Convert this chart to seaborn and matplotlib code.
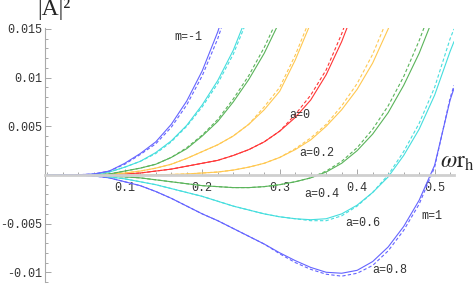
import numpy as np
import pandas as pd
import matplotlib
matplotlib.use("Agg")
import matplotlib.pyplot as plt
import seaborn as sns
from matplotlib.ticker import FixedLocator, MultipleLocator

#%% Data
w = [0.00, 0.02, 0.04, 0.06, 0.08, 0.10, 0.12, 0.14, 0.16, 0.18, 0.20, 0.22, 0.24,
     0.26, 0.28, 0.30, 0.32, 0.34, 0.36, 0.38, 0.40, 0.42, 0.44, 0.46, 0.48, 0.50, 0.52, 0.525]

# m = -1 branches (rising)
blue_up = [0, 0, .00002, .0001, .0004, .0012, .0022, .0034, .0052, .0076, .0107, .0147, .0195]
blue_up_d = [0, 0, .00002, .0001, .0004, .0011, .0021, .0032, .0049, .0072, .0102, .0140, .0188]
cyan_up = [0, 0, .00001, .00006, .0003, .0008, .0014, .0023, .0035, .0051, .0072, .0097, .0128, .0168]
cyan_up_d = [0, 0, .00001, .00006, .0003, .0008, .0014, .0022, .0034, .0050, .0070, .0094, .0124, .0163]
green_up = [0, 0, 0, .00003, .0001, .0004, .0007, .0011, .0018, .0027, .0040, .0055, .0075, .0098, .0125, .0158]
green_up_d = [0, 0, 0, .00003, .0001, .0004, .0007, .0011, .0018, .0028, .0041, .0057, .0078, .0102, .0131, .0165]
orange_up = [0, 0, 0, .00002, .00008, .0002, .0004, .0007, .0011, .0017, .0024, .0031, .0040, .0052,
             .0067, .0086, .0118, .0156]
orange_up_d = [0, 0, 0, .00002, .00008, .0002, .0004, .0007, .0011, .0017, .0024, .0031, .0040, .0052,
               .0070, .0090, .0123, .0162]

# a = 0 (both m)
red = [0, 0, 0, 0, .00003, .0001, .0002, .0004, .0006, .0009, .0012, .0015, .0020, .0026, .0034,
       .0045, .0059, .0077, .0103, .0137, .0178]
red_d = [0, 0, 0, 0, .00003, .0001, .0002, .0004, .0006, .0009, .0012, .0015, .0020, .0026, .0034,
         .0045, .0062, .0082, .0108, .0145, .0190]

# m = 1 branches (dip then rise)
orange_dn = [0, 0, 0, 0, 0, 0, 0, .00002, .00005, .0001, .0002, .0003, .0005, .0008, .0012, .0018,
             .0026, .0036, .0050, .0067, .0088, .0115, .0150, .0190]
orange_dn_d = [0, 0, 0, 0, 0, 0, 0, .00002, .00005, .0001, .0002, .0003, .0005, .0008, .0012, .0018,
               .0027, .0038, .0052, .0071, .0094, .0124, .0162]
green_dn = [0, 0, 0, -.00003, -.0001, -.0002, -.0003, -.0005, -.0007, -.0009, -.0011, -.0012, -.0013,
            -.0013, -.0012, -.0010, -.0007, -.0003, .0003, .0012, .0025, .0042, .0064, .0092, .0125, .0165]
green_dn_d = [0, 0, 0, -.00003, -.0001, -.0002, -.0003, -.0005, -.0007, -.0009, -.0011, -.0012, -.0013,
              -.0013, -.0012, -.0010, -.0007, -.0003, .0004, .0014, .0028, .0047, .0071, .0101, .0138, .0180]
cyan_dn = [0, 0, -.00001, -.00006, -.0002, -.0004, -.0007, -.0010, -.0014, -.0018, -.0022, -.0027,
           -.0032, -.0036, -.0040, -.0043, -.0045, -.0046, -.0045, -.0040, -.0031, -.0018, -.0002,
           .0020, .0047, .0082, .0127, .0137]
cyan_dn_d = [0, 0, -.00001, -.00006, -.0002, -.0004, -.0007, -.0010, -.0014, -.0018, -.0022, -.0027,
             -.0032, -.0036, -.0040, -.0043, -.0045, -.0047, -.0047, -.0042, -.0032, -.0018, .0000,
             .0024, .0053, .0090, .0140, .0150]
blue_dn = [0, 0, -.00002, -.0001, -.0003, -.0007, -.0011, -.0017, -.0024, -.0032, -.0040, -.0047,
           -.0055, -.0063, -.0071, -.0080, -.0088, -.0095, -.0100, -.0101, -.0098, -.0089, -.0074,
           -.0053, -.0026, .0010, .0077, .0089]
blue_dn_d = [0, 0, -.00002, -.0001, -.0003, -.0007, -.0011, -.0017, -.0024, -.0032, -.0040, -.0047,
             -.0055, -.0063, -.0071, -.0081, -.0090, -.0097, -.0102, -.0104, -.0101, -.0093, -.0078,
             -.0057, -.0030, .0008, .0079, .0092]

x_ticks = [0.1, 0.2, 0.3, 0.4, 0.5]
y_ticks = [0.015, 0.01, 0.005, -0.005, -0.01]
y_tick_labels = ["0.015", "0.01", "0.005", "-0.005", "-0.01"]

BLUE, CYAN, GREEN, ORANGE, RED = "#6464ff", "#45dede", "#5ab45a", "#ffc850", "#ff3535"

curves = [
    (blue_dn, blue_dn_d, BLUE), (cyan_dn, cyan_dn_d, CYAN), (green_dn, green_dn_d, GREEN),
    (orange_dn, orange_dn_d, ORANGE), (red, red_d, RED),
    (orange_up, orange_up_d, ORANGE), (green_up, green_up_d, GREEN),
    (cyan_up, cyan_up_d, CYAN), (blue_up, blue_up_d, BLUE),
]

#%% Plot
sns.set_style("white")
plt.rcParams["font.family"] = ["Liberation Mono", "DejaVu Sans Mono"]
plt.rcParams["mathtext.fontset"] = "stix"

fig = plt.figure(figsize=(4.73, 2.89), dpi=100)
ax = fig.add_axes([45 / 473, 1 - 282 / 289, 409 / 473, 254 / 289])

for solid, dashed, col in curves:
    sns.lineplot(x=w[:len(solid)], y=solid, color=col, lw=0.8, ax=ax, estimator=None, sort=False)
    sns.lineplot(x=w[:len(dashed)], y=dashed, color=col, lw=0.8, ax=ax, estimator=None, sort=False,
                 linestyle=(0, (3, 2)))

ax.set_xlim(-0.003, 0.525)
ax.set_ylim(-0.0110, 0.0151)

for s in ["top", "right"]:
    ax.spines[s].set_visible(False)
ax.spines["bottom"].set_position(("data", 0))
ax.spines["bottom"].set_color("#cfcfcf")
ax.spines["bottom"].set_linewidth(2.0)
ax.spines["left"].set_color("#aaaaaa")
ax.spines["left"].set_linewidth(0.8)

ax.xaxis.set_major_locator(FixedLocator(x_ticks))
ax.xaxis.set_minor_locator(MultipleLocator(0.02))
ax.yaxis.set_major_locator(FixedLocator(y_ticks))
ax.set_yticklabels(y_tick_labels)
ax.set_xticklabels([f"{t:g}" for t in x_ticks])
ax.yaxis.set_minor_locator(MultipleLocator(0.001))
ax.tick_params(which="both", direction="in", color="#999999", width=0.6, labelsize=8.5,
               labelcolor="#333333")
ax.tick_params(which="major", length=4)
ax.tick_params(which="minor", length=2)
ax.tick_params(axis="x", which="both", bottom=True, pad=5)
ax.tick_params(axis="y", which="both", left=True, pad=2)

lab = dict(fontsize=8.5, color="#333333", va="center", ha="left")
ax.text(0.1645, 0.01417, "m=-1", **lab)
ax.text(0.3129, 0.00616, "a=0", **lab)
ax.text(0.3258, 0.00226, "a=0.2", **lab)
ax.text(0.3323, -0.00195, "a=0.4", **lab)
ax.text(0.3852, -0.00493, "a=0.6", **lab)
ax.text(0.4832, -0.00421, "m=1", **lab)
ax.text(0.4200, -0.00975, "a=0.8", **lab)

fig.text(37 / 473, 1 - 15 / 289, "|A|²", family="Liberation Serif", fontsize=17, va="baseline")
fig.text(440 / 473, 1 - 168 / 289, r"$\omega\mathrm{r}_\mathrm{h}$", fontsize=17, va="baseline")

fig.savefig("out.png", dpi=100)
